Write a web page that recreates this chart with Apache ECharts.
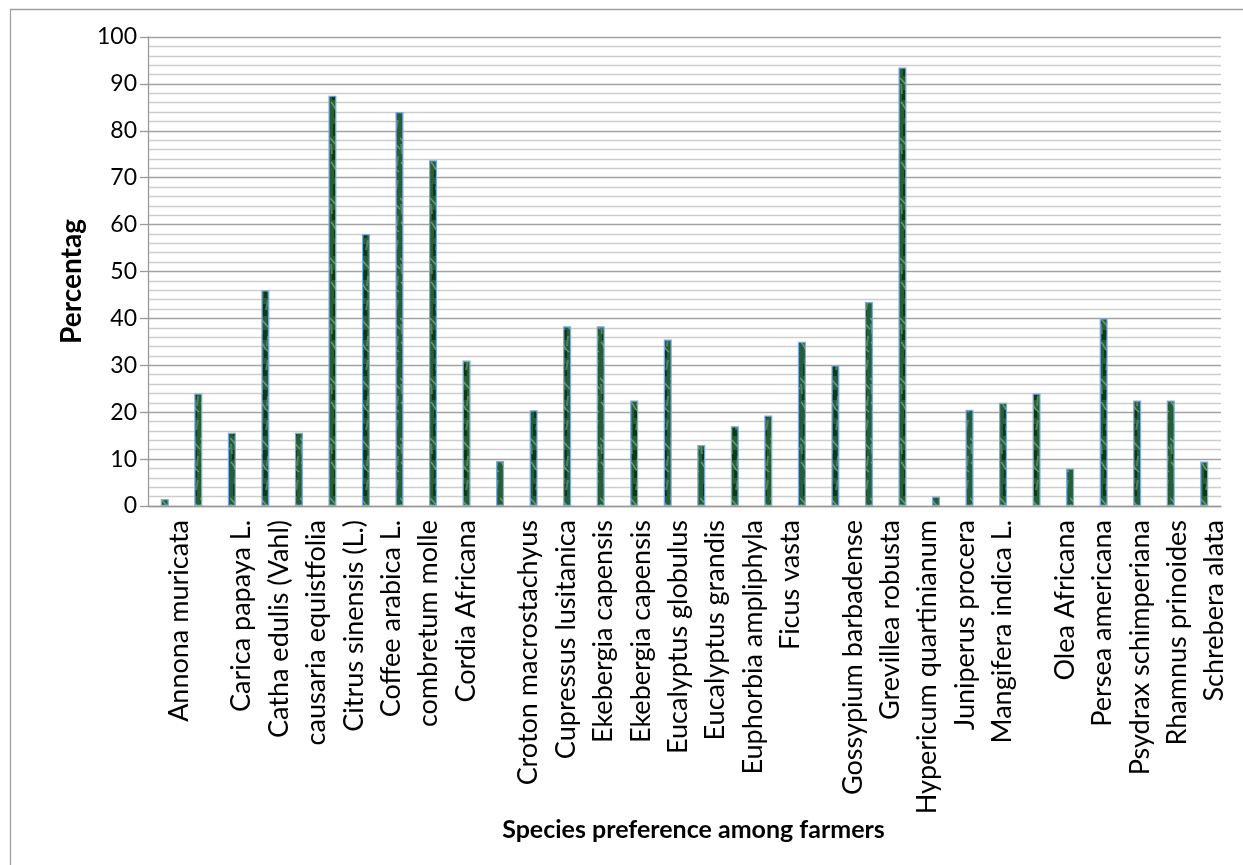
<!DOCTYPE html>
<html>
<head>
<meta charset="utf-8">
<title>Species preference among farmers</title>
<script src="https://cdn.jsdelivr.net/npm/echarts@6/dist/echarts.min.js"></script>
<style>
  html, body { margin: 0; padding: 0; background: #ffffff; }
  #chart { width: 1243px; height: 865px; }
</style>
</head>
<body>
<div id="chart"></div>
<script>
// Percentage of farmers preferring each species (one bar per entry)
const preferencePct = [
  1.5, 24, 15.6, 46, 15.6, 87.5, 58, 84, 73.7, 31,
  9.6, 20.4, 38.3, 38.3, 22.5, 35.5, 13, 17, 19.3, 35,
  30, 43.5, 93.5, 2, 20.5, 22, 24, 8, 40, 22.5,
  22.5, 9.5
];
const barIds = preferencePct.map((_, i) => String(i + 1));

// Species tick labels along the category axis (blank entries are empty slots)
const speciesTicks = [
  '', '', 'Annona muricata', '', '', '', '', 'Carica papaya L.', '', '',
  'Catha edulis (Vahl)', '', '', 'causaria equistfolia', '', '', 'Citrus sinensis (L.)', '', '', 'Coffee arabica L.',
  '', '', 'combretum molle', '', '', 'Cordia Africana', '', '', '', '',
  'Croton macrostachyus', '', '', 'Cupressus lusitanica', '', '', 'Ekebergia capensis', '', '', 'Ekebergia capensis',
  '', '', 'Eucalyptus globulus', '', '', 'Eucalyptus grandis', '', '', 'Euphorbia ampliphyla', '',
  '', 'Ficus vasta', '', '', '', '', 'Gossypium barbadense', '', '', 'Grevillea robusta',
  '', '', 'Hypericum quartinianum', '', '', 'Juniperus procera', '', '', 'Mangifera indica L.', '',
  '', '', '', 'Olea Africana', '', '', 'Persea americana', '', '', 'Psydrax schimperiana',
  '', '', 'Rhamnus prinoides', '', '', 'Schrebera alata'
];

const yTicks = { min: 0, max: 100, interval: 10 };

// Green marbled fill for the bars
function marbleTexture() {
  const c = document.createElement('canvas');
  c.width = 10; c.height = 60;
  const g = c.getContext('2d');
  g.fillStyle = '#265e39';
  g.fillRect(0, 0, 10, 60);
  g.fillStyle = 'rgba(8,48,20,0.8)';
  g.fillRect(3, 4, 4, 12);
  g.fillRect(2, 30, 5, 10);
  g.fillRect(4, 50, 3, 8);
  g.strokeStyle = 'rgba(130,175,140,0.75)';
  g.lineWidth = 1.5;
  g.beginPath();
  g.moveTo(0, 18); g.bezierCurveTo(4, 22, 6, 25, 10, 29);
  g.moveTo(1, 42); g.bezierCurveTo(5, 46, 3, 48, 9, 52);
  g.stroke();
  g.strokeStyle = 'rgba(95,140,108,0.8)';
  g.lineWidth = 2;
  g.beginPath();
  g.moveTo(8, 0); g.lineTo(6, 10);
  g.moveTo(1, 24); g.lineTo(2, 34);
  g.moveTo(8, 36); g.lineTo(7, 46);
  g.stroke();
  return c;
}

const chart = echarts.init(document.getElementById('chart'), null, { renderer: 'canvas' });

const gridBox = { left: 148, right: 22, top: 37, bottom: 359 };

chart.setOption({
  backgroundColor: '#ffffff',
  animation: false,
  textStyle: { fontFamily: 'Lato' },
  graphic: [{
    type: 'rect',
    left: 8, top: 7,
    shape: { width: 1300, height: 900 },
    style: { fill: 'none', stroke: '#a0a0a0', lineWidth: 1.3 },
    silent: true
  }],
  grid: Object.assign({ containLabel: false }, gridBox),
  xAxis: [
    {
      type: 'category',
      data: barIds,
      boundaryGap: true,
      axisLine: { show: true, lineStyle: { color: '#9a9a9a', width: 1.3 } },
      axisTick: { show: false },
      axisLabel: { show: false },
      splitLine: { show: false },
      name: 'Species preference among farmers',
      nameLocation: 'middle',
      nameGap: 311,
      nameTextStyle: { fontFamily: 'Lato', fontWeight: 'bold', fontSize: 25, color: '#000', padding: [0, 0, 0, 18] }
    },
    {
      type: 'category',
      data: speciesTicks,
      position: 'bottom',
      boundaryGap: true,
      axisLine: { show: false },
      axisTick: { show: false },
      axisLabel: {
        interval: 0,
        rotate: 90,
        margin: 14,
        fontFamily: 'Lato',
        fontSize: 27,
        color: '#000'
      },
      splitLine: { show: false }
    }
  ],
  yAxis: {
    type: 'value',
    min: yTicks.min,
    max: yTicks.max,
    interval: yTicks.interval,
    name: 'Percentag',
    nameLocation: 'middle',
    nameGap: 61,
    nameRotate: 90,
    nameTextStyle: { fontFamily: 'Lato', fontWeight: 'bold', fontSize: 28, color: '#000', padding: [0, 0, 0, -20] },
    axisLine: { show: true, lineStyle: { color: '#9a9a9a', width: 1.3 } },
    axisTick: { show: true, inside: false, length: 8, lineStyle: { color: '#9a9a9a', width: 1.3 } },
    axisLabel: { margin: 11, fontFamily: 'Lato', fontSize: 23, color: '#000' },
    splitLine: { show: true, lineStyle: { color: '#a3a3a3', width: 1.3 } },
    minorTick: { show: false, splitNumber: 5 },
    minorSplitLine: { show: true, lineStyle: { color: '#cdcdcd', width: 1.3 } }
  },
  series: [{
    type: 'bar',
    xAxisIndex: 0,
    data: preferencePct,
    barWidth: 8,
    itemStyle: {
      color: { image: marbleTexture(), repeat: 'repeat' },
      borderColor: '#78abe0',
      borderWidth: 1.2
    }
  }]
});
</script>
</body>
</html>
